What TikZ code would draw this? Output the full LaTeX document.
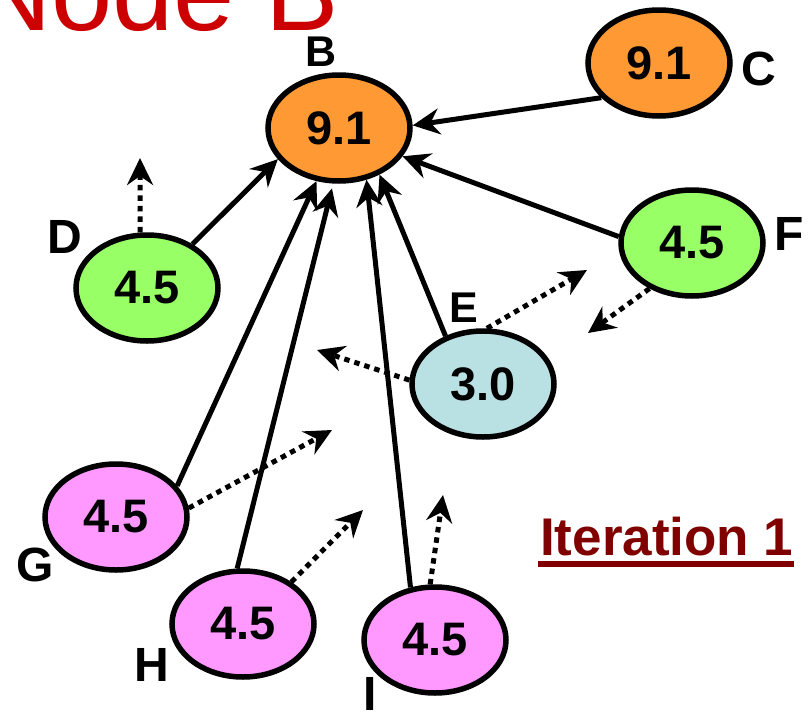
\documentclass[tikz,border=0pt]{standalone}
\usepackage{fontspec}
\setmainfont{Liberation Sans}
\usetikzlibrary{arrows.meta,shapes.geometric}

\begin{document}
\begin{tikzpicture}[x=1pt, y=-1pt, >={Stealth[length=27pt, width=26pt, inset=9pt]}]

  % Colors
  \definecolor{rankhigh}{HTML}{FF9933} % Orange
  \definecolor{rankmid}{HTML}{99FF66} % Green
  \definecolor{ranklow}{HTML}{B9E0E3} % Light blue
  \definecolor{rankleaf}{HTML}{FF99FF} % Pink
  \definecolor{titlered}{HTML}{CC0000}
  \definecolor{iterred}{HTML}{800000}

  \tikzset{
    page/.style={ellipse, draw, line width=5.5pt, minimum width=142pt, minimum height=106pt,
      inner sep=0pt, font=\fontsize{47}{47}\selectfont\bfseries},
    tag/.style={inner sep=0pt, font=\fontsize{48}{48}\selectfont\bfseries},
    smalltag/.style={inner sep=0pt, font=\fontsize{43}{43}\selectfont\bfseries},
    link/.style={->, line width=5pt},
    vote/.style={->, line width=5pt, dash pattern=on 5.5pt off 5pt},
  }

  \useasboundingbox (0,0) rectangle (809,715);

  % Title (cut by the top edge)
  \node[anchor=base west, inner sep=0pt, text=titlered, font=\fontsize{110}{110}\selectfont] (title) at (-28,30) {Node B};

  % Pages
  \node[page, fill=rankhigh] (B) at (339,128) {9.1};
  \node[page, fill=rankhigh] (C) at (659,63) {9.1};
  \node[page, fill=rankmid] (D) at (147,288) {4.5};
  \node[page, fill=rankmid] (F) at (692,243) {4.5};
  \node[page, fill=ranklow] (E) at (483,384) {3.0};
  \node[page, fill=rankleaf] (G) at (116,517) {4.5};
  \node[page, fill=rankleaf] (H) at (243,624) {4.5};
  \node[page, fill=rankleaf] (I) at (435,640) {4.5};

  % Page names
  \node[smalltag] (labB) at (321,52) {B};
  \node[tag] (labC) at (759,69) {C};
  \node[tag] (labD) at (65,237) {D};
  \node[smalltag] (labE) at (464,308) {E};
  \node[tag] (labF) at (789,234) {F};
  \node[tag] (labG) at (35,565) {G};
  \node[tag] (labH) at (152,665) {H};
  \node[tag] (labI) at (370,694) {I};

  % Links into B
  \draw[link] (C.211) -- (B.2);
  \draw[link] (F.175) -- (B.-24);
  \draw[link] (D.44) -- (B.-153);
  \draw[link] (G.27) -- (B.-113);
  \draw[link, shorten >=5pt] (H.96) -- (B.-96);
  \draw[link] (I.115) -- (B.-62);
  \draw[link] (E.128) -- (B.-49);

  % Outgoing shares (free ends)
  \coordinate (outD) at (140,158);
  \coordinate (outEw) at (317,350);
  \coordinate (outEn) at (587,270);
  \coordinate (outF) at (588,333);
  \coordinate (outG) at (332,430);
  \coordinate (outH) at (363,510);
  \coordinate (outI) at (443,495);
  \draw[vote] (D.97) -- (outD);
  \draw[vote] (E.177) -- (outEw);
  \draw[vote] (E.86) -- (outEn);
  \draw[vote] (F.-133) -- (outF);
  \draw[vote] (G.7) -- (outG);
  \draw[vote] (H.41) -- (outH);
  \draw[vote] (I.95) -- (outI);

  % Iteration caption
  \node[anchor=base west, inner sep=0pt, text=iterred, font=\fontsize{53}{53}\selectfont\bfseries] (iter) at (540,555) {Iteration 1};
  \draw[iterred, line width=6pt] ([xshift=-2pt, yshift=-9pt]iter.base west) -- ([yshift=-9pt]iter.base east);

\end{tikzpicture}
\end{document}
